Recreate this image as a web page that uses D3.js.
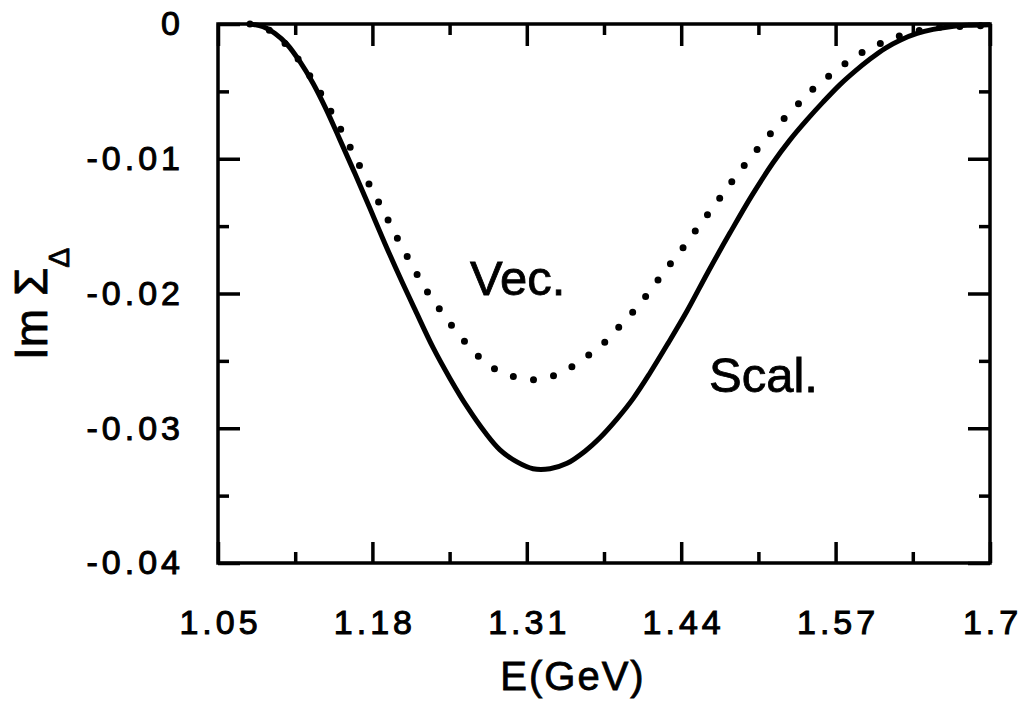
<!DOCTYPE html>
<html><head><meta charset="utf-8">
<script src="https://cdn.jsdelivr.net/npm/d3@7"></script>
<style>
html,body{margin:0;padding:0;background:#fff;}
text{font-family:"Liberation Sans",Arial,Helvetica,sans-serif;fill:#000;}
</style></head>
<body>
<svg id="c" width="1024" height="709"></svg>
<script>
// ---- data ----
const xTickValues = [1.05, 1.18, 1.31, 1.44, 1.57, 1.7];
const xTickLabels = ["1.05", "1.18", "1.31", "1.44", "1.57", "1.7"];
const xMinorTicks = [1.115, 1.245, 1.375, 1.505, 1.635];
const yTickValues = [0, -0.01, -0.02, -0.03, -0.04];
const yTickLabels = ["0", "-0.01", "-0.02", "-0.03", "-0.04"];
const yMinorTicks = [-0.005, -0.015, -0.025, -0.035];

// Scalar (solid)
const scalE = [1.0769, 1.0879, 1.0980, 1.1081, 1.1190, 1.1300, 1.1409, 1.1527, 1.1653, 1.1780, 1.1906, 1.2032, 1.2159, 1.2310, 1.2453, 1.2597, 1.2748, 1.2874, 1.3017, 1.3152, 1.3295, 1.3439, 1.3590, 1.3716, 1.3860, 1.3995, 1.4137, 1.4289, 1.4449, 1.4626, 1.4811, 1.4997, 1.5173, 1.5316, 1.5460, 1.5594, 1.5737, 1.5864, 1.5990, 1.6117, 1.6243, 1.6386, 1.6521, 1.6664, 1.6807, 1.70];
const scalV = [0, -0.0002, -0.0007, -0.0015, -0.0028, -0.0044, -0.0063, -0.0086, -0.0111, -0.0137, -0.0163, -0.0188, -0.0212, -0.0240, -0.0263, -0.0284, -0.0303, -0.0316, -0.0325, -0.0330, -0.0330, -0.0326, -0.0317, -0.0307, -0.0293, -0.0278, -0.0259, -0.0237, -0.0213, -0.0184, -0.0155, -0.0127, -0.0103, -0.0086, -0.0071, -0.0058, -0.0045, -0.0035, -0.0026, -0.0018, -0.0012, -0.0007, -0.0004, -0.0002, -0.0001, -0.00005];

// Vector (dotted)
const vecE = [1.0769, 1.0921, 1.1081, 1.1207, 1.1334, 1.1452, 1.1569, 1.1679, 1.1797, 1.1906, 1.2016, 1.2134, 1.2243, 1.2369, 1.2496, 1.2622, 1.2748, 1.2874, 1.3001, 1.3127, 1.3253, 1.3380, 1.3506, 1.3632, 1.3759, 1.3885, 1.4011, 1.4137, 1.4264, 1.4390, 1.4541, 1.4701, 1.4852, 1.5021, 1.5206, 1.5400, 1.5526, 1.5653, 1.5804, 1.5964, 1.6116, 1.6301, 1.6521, 1.6689, 1.70];
const vecV = [0, -0.0004, -0.0016, -0.0030, -0.0047, -0.0065, -0.0084, -0.0103, -0.0123, -0.0141, -0.0160, -0.0179, -0.0196, -0.0212, -0.0227, -0.0240, -0.0251, -0.0258, -0.0262, -0.0264, -0.0263, -0.0259, -0.0253, -0.0245, -0.0236, -0.0224, -0.0212, -0.0198, -0.0183, -0.0169, -0.0151, -0.0132, -0.0114, -0.0095, -0.0076, -0.0058, -0.0047, -0.0038, -0.0028, -0.0019, -0.0013, -0.0007, -0.0003, -0.0002, -0.0001];

// ---- layout ----
const L = 218, R = 990, T = 24, B = 563;
const svg = d3.select("#c");
const x = d3.scaleLinear().domain([1.05, 1.7]).range([L, R]);
const y = d3.scaleLinear().domain([-0.04, 0]).range([B, T]);

const tickFont = 34;
function styleAxis(g){
  g.select(".domain").remove();
  g.selectAll("line").attr("stroke", "#000").attr("stroke-width", 3.5);
  g.selectAll("text").style("font-size", tickFont + "px").style("letter-spacing", "4px")
    .attr("stroke", "#000").attr("stroke-width", 1);
}

// bottom axis
svg.append("g").attr("transform", `translate(0,${B})`)
  .call(d3.axisBottom(x).tickValues(xTickValues).tickSize(-21).tickPadding(47)
    .tickFormat((d, i) => xTickLabels[i]))
  .call(styleAxis)
  .call(g => g.selectAll("text").attr("dx", "2px"));
svg.append("g").attr("transform", `translate(0,${B})`)
  .call(d3.axisBottom(x).tickValues(xMinorTicks).tickSize(-11).tickFormat(""))
  .call(styleAxis);
// top axis
svg.append("g").attr("transform", `translate(0,${T})`)
  .call(d3.axisTop(x).tickValues(xTickValues).tickSize(-22).tickFormat(""))
  .call(styleAxis);
svg.append("g").attr("transform", `translate(0,${T})`)
  .call(d3.axisTop(x).tickValues(xMinorTicks).tickSize(-11).tickFormat(""))
  .call(styleAxis);
// left axis
svg.append("g").attr("transform", `translate(${L},0)`)
  .call(d3.axisLeft(y).tickValues(yTickValues).tickSize(-22).tickPadding(38)
    .tickFormat((d, i) => yTickLabels[i]))
  .call(styleAxis)
  .call(g => g.selectAll("text").attr("dx", "4px"));
svg.append("g").attr("transform", `translate(${L},0)`)
  .call(d3.axisLeft(y).tickValues(yMinorTicks).tickSize(-11).tickFormat(""))
  .call(styleAxis);
// right axis
svg.append("g").attr("transform", `translate(${R},0)`)
  .call(d3.axisRight(y).tickValues(yTickValues).tickSize(-22).tickFormat(""))
  .call(styleAxis);
svg.append("g").attr("transform", `translate(${R},0)`)
  .call(d3.axisRight(y).tickValues(yMinorTicks).tickSize(-11).tickFormat(""))
  .call(styleAxis);

// frame
svg.append("rect").attr("x", L).attr("y", T).attr("width", R - L).attr("height", B - T)
  .attr("fill", "none").attr("stroke", "#000").attr("stroke-width", 3.5);

// curves
const line = d3.line().x(d => x(d[0])).y(d => y(d[1])).curve(d3.curveCatmullRom.alpha(0.5));
svg.append("path").datum(vecE.map((e, i) => [e, vecV[i]]))
  .attr("d", line).attr("fill", "none").attr("stroke", "#000")
  .attr("stroke-width", 7).attr("stroke-linecap", "round").attr("stroke-dasharray", "0 20.5");
svg.append("path").datum(scalE.map((e, i) => [e, scalV[i]]))
  .attr("d", line).attr("fill", "none").attr("stroke", "#000")
  .attr("stroke-width", 5).attr("stroke-linejoin", "round");

// annotations
svg.append("text").attr("x", 470).attr("y", 295).style("font-size", "49px")
  .attr("stroke", "#000").attr("stroke-width", 0.8).text("Vec.");
svg.append("text").attr("x", 709).attr("y", 392).style("font-size", "49px")
  .attr("stroke", "#000").attr("stroke-width", 0.8).text("Scal.");

// axis titles
svg.append("text").attr("x", 573).attr("y", 690).attr("text-anchor", "middle")
  .style("font-size", "40px").style("letter-spacing", "2px")
  .attr("stroke", "#000").attr("stroke-width", 0.8).text("E(GeV)");

const yl = svg.append("text").attr("transform", "translate(47,360) rotate(-90)")
  .style("font-size", "46px").attr("stroke", "#000").attr("stroke-width", 0.8);
yl.append("tspan").text("Im Σ");
yl.append("tspan").attr("dy", 22).style("font-size", "30px").text("Δ");
</script>
</body></html>
